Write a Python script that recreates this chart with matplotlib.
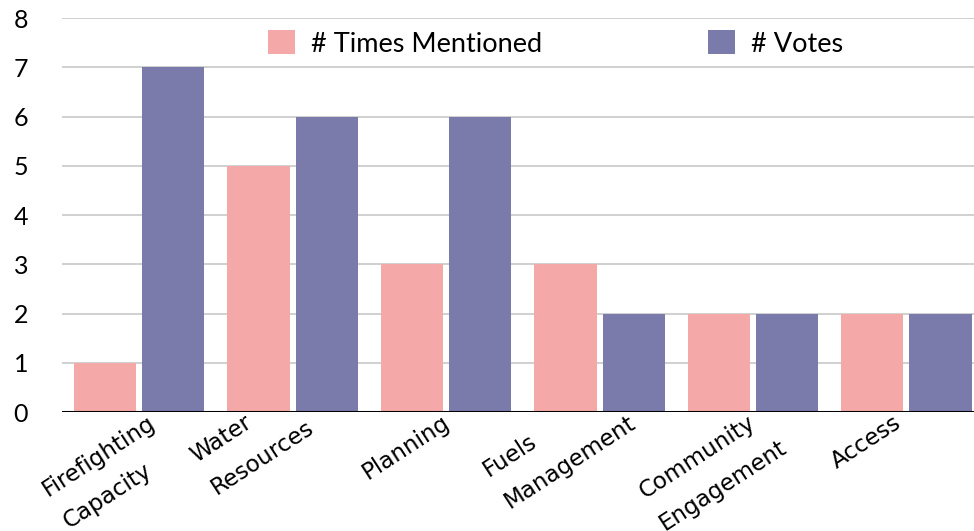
import matplotlib.pyplot as plt
from matplotlib.transforms import Bbox
import numpy as np

categories = ['Firefighting\nCapacity', 'Water\nResources', 'Planning',
              'Fuels\nManagement', 'Community\nEngagement', 'Access']
times_mentioned = [1, 5, 3, 3, 2, 2]
votes = [7, 6, 6, 2, 2, 2]
yticks = [0, 1, 2, 3, 4, 5, 6, 7, 8]

pink = '#F4A9A8'
purple = '#7A7BAB'

fig = plt.figure(figsize=(9.74, 5.31), dpi=100)
ax = fig.add_axes([0.064, 0.224, 0.936, 0.742])

x = np.arange(len(categories))
bar_width = 0.405
ax.bar(x - 0.222, times_mentioned, width=bar_width, color=pink, label='# Times Mentioned', zorder=2)
ax.bar(x + 0.222, votes, width=bar_width, color=purple, label='# Votes', zorder=2)

ax.set_xlim(-0.5, 5.44)
ax.set_ylim(0, 8)
for item in yticks[1:]:
    ax.axhline(item, color='#c8c8c8', linewidth=1.2, zorder=1)
ax.axhline(0, color='black', linewidth=2.2, zorder=3)

for s in ax.spines.values():
    s.set_visible(False)

ax.set_yticks(yticks)
ax.set_yticklabels([str(v) for v in yticks], fontsize=18, family='Lato')
ax.tick_params(axis='y', length=0, pad=35)
for lab in ax.get_yticklabels():
    lab.set_horizontalalignment('left')

ax.set_xticks(x)
ax.set_xticklabels([])
ax.tick_params(axis='x', length=0)

# category labels: rotated, lines left-aligned, each block hung just under the axis
angle = 33
gap = 38  # pixels between baselines
ca, sa = np.cos(np.radians(angle)), np.sin(np.radians(angle))
renderer = fig.canvas.get_renderer()
top_px = fig.bbox.height - 411
for xi, label in zip(x, categories):
    parts = []
    for i, line in enumerate(label.split('\n')):
        t = ax.annotate(line, xy=(xi, 0), xycoords=('data', 'axes fraction'),
                        xytext=(i * gap * sa, -i * gap * ca), textcoords='offset pixels',
                        rotation=angle, rotation_mode='anchor', ha='left', va='baseline',
                        fontsize=16.6, family='DejaVu Sans', annotation_clip=False)
        parts.append(t)
    bb = Bbox.union([t.get_window_extent(renderer) for t in parts])
    tick_px = ax.transData.transform((xi, 0))[0]
    dx = (tick_px - 40) - (bb.x0 + bb.x1) / 2
    dy = top_px - bb.y1
    for t in parts:
        t.xyann = (t.xyann[0] + dx, t.xyann[1] + dy)

ax.legend(loc='upper center', bbox_to_anchor=(0.541, 1.0), ncol=2, frameon=False,
          prop={'family': 'Lato', 'size': 19.5}, handlelength=1.0, handleheight=1.0,
          handletextpad=0.6, columnspacing=6.1, borderaxespad=0.05)

plt.savefig('out.png', dpi=100)
